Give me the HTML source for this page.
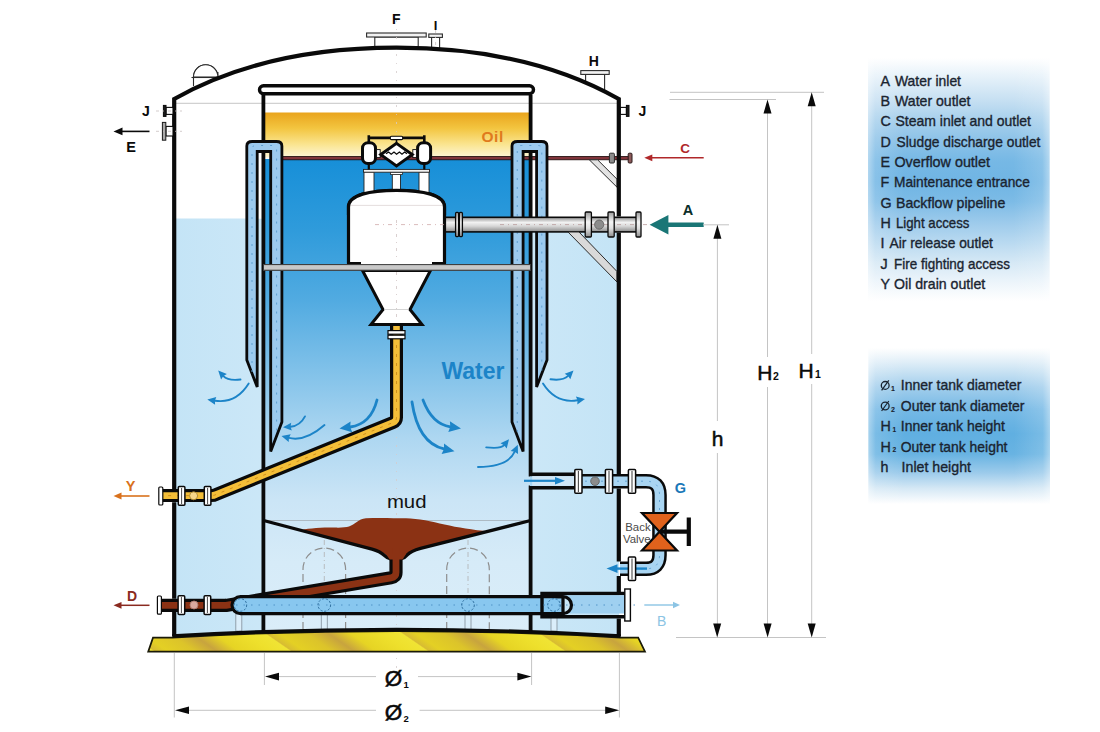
<!DOCTYPE html>
<html><head><meta charset="utf-8">
<style>
html,body{margin:0;padding:0;background:#fff;}
body{width:1100px;height:732px;overflow:hidden;font-family:"Liberation Sans",sans-serif;}
svg{display:block;}
text{font-family:"Liberation Sans",sans-serif;}
.b{font-weight:bold;}
.lg{fill:#1a2430;stroke:#1a2430;stroke-width:0.35px;}
</style></head><body>
<svg width="1100" height="732" viewBox="0 0 1100 732">
<defs>
<linearGradient id="gLeg1" x1="0" y1="0" x2="0" y2="1">
<stop offset="0" stop-color="#ffffff"/><stop offset="0.095" stop-color="#e0eef8"/><stop offset="0.177" stop-color="#c5dff2"/><stop offset="0.26" stop-color="#a5cfec"/><stop offset="0.34" stop-color="#8cc2e8"/><stop offset="0.424" stop-color="#76b8e5"/><stop offset="0.51" stop-color="#70b5e4"/><stop offset="0.59" stop-color="#7cbbe6"/><stop offset="0.675" stop-color="#9ccaeb"/><stop offset="0.757" stop-color="#b8d9f0"/><stop offset="0.84" stop-color="#d5e8f5"/><stop offset="0.926" stop-color="#edf5fb"/><stop offset="1" stop-color="#ffffff"/>
</linearGradient>
<linearGradient id="gLeg2" x1="0" y1="0" x2="0" y2="1">
<stop offset="0" stop-color="#ffffff"/><stop offset="0.1" stop-color="#dcecf7"/><stop offset="0.25" stop-color="#a2ceec"/><stop offset="0.4" stop-color="#74b8e5"/><stop offset="0.55" stop-color="#60afe1"/><stop offset="0.68" stop-color="#68b3e2"/><stop offset="0.8" stop-color="#9ccbeb"/><stop offset="0.9" stop-color="#d5e8f5"/><stop offset="1" stop-color="#ffffff"/>
</linearGradient>
<linearGradient id="gLegH" x1="0" y1="0" x2="1" y2="0">
<stop offset="0" stop-color="#ffffff" stop-opacity="0.45"/><stop offset="0.04" stop-color="#ffffff" stop-opacity="0.16"/><stop offset="0.2" stop-color="#ffffff" stop-opacity="0"/><stop offset="0.8" stop-color="#ffffff" stop-opacity="0"/><stop offset="0.96" stop-color="#ffffff" stop-opacity="0.16"/><stop offset="1" stop-color="#ffffff" stop-opacity="0.45"/>
</linearGradient>
<linearGradient id="gOil" x1="0" y1="0" x2="0" y2="1">
<stop offset="0" stop-color="#e9a41c"/><stop offset="0.35" stop-color="#f3c540"/><stop offset="0.7" stop-color="#fae48e"/><stop offset="1" stop-color="#fdf6d6"/>
</linearGradient>
<linearGradient id="gWater" x1="0" y1="0" x2="0" y2="1">
<stop offset="0" stop-color="#178fd8"/><stop offset="0.15" stop-color="#2f9bdb"/><stop offset="0.3" stop-color="#52abe1"/><stop offset="0.445" stop-color="#80c1e9"/><stop offset="0.59" stop-color="#aed7f1"/><stop offset="0.72" stop-color="#cbe5f6"/><stop offset="0.85" stop-color="#d6ebf8"/><stop offset="1" stop-color="#daedf9"/>
</linearGradient>
<linearGradient id="gOuter" x1="0" y1="0" x2="1" y2="0">
<stop offset="0" stop-color="#c4e4f6"/><stop offset="0.5" stop-color="#d6ecf9"/><stop offset="1" stop-color="#c4e4f6"/>
</linearGradient>
<linearGradient id="gPipe" x1="0" y1="0" x2="0" y2="1">
<stop offset="0" stop-color="#8f8f8f"/><stop offset="0.35" stop-color="#f2f2f2"/><stop offset="0.6" stop-color="#d8d8d8"/><stop offset="1" stop-color="#8a8a8a"/>
</linearGradient>
<linearGradient id="gBase" gradientUnits="userSpaceOnUse" x1="151.4" y1="640" x2="195.4" y2="576" spreadMethod="repeat">
<stop offset="0" stop-color="#e4d024"/><stop offset="0.2" stop-color="#dcc42a"/><stop offset="0.36" stop-color="#c8a43e"/><stop offset="0.52" stop-color="#e6d424"/><stop offset="0.75" stop-color="#eee02c"/><stop offset="0.895" stop-color="#f0e434"/><stop offset="0.91" stop-color="#d8bc32"/><stop offset="1" stop-color="#e4d024"/>
</linearGradient>
<linearGradient id="gFl" x1="0" y1="0" x2="0" y2="1"><stop offset="0" stop-color="#9a9a9a"/><stop offset="0.4" stop-color="#f4f4f4"/><stop offset="0.65" stop-color="#e0e0e0"/><stop offset="1" stop-color="#8c8c8c"/></linearGradient>
<clipPath id="cInner"><rect x="263.5" y="95" width="267" height="540"/></clipPath>
</defs>
<rect width="1100" height="732" fill="#ffffff"/>
<path d="M193.5,86 V77 A12.2,12.2 0 0 1 217.9,77 V72" fill="#ffffff" stroke="#2a2a2a" stroke-width="1.1"/>
<path d="M193.5,77 A12.2,12.2 0 0 1 217.9,77 Z" fill="#ffffff" stroke="#2a2a2a" stroke-width="1.1"/>
<line x1="191.5" y1="77.5" x2="219.5" y2="77.5" stroke="#2a2a2a" stroke-width="1.1"/>
<rect x="374.8" y="37" width="43.4" height="12" fill="#ffffff" stroke="#2a2a2a" stroke-width="1.1"/>
<rect x="366.6" y="33" width="59.6" height="4" fill="#f2f2f2" stroke="#2a2a2a" stroke-width="1.1"/>
<rect x="431.6" y="37.4" width="8" height="12" fill="#ffffff" stroke="#2a2a2a" stroke-width="1.1"/>
<rect x="428.8" y="34" width="13.6" height="3.4" fill="#f2f2f2" stroke="#2a2a2a" stroke-width="1.1"/>
<line x1="435.6" y1="30" x2="435.6" y2="62" stroke="#c9c0c0" stroke-width="0.8" stroke-dasharray="3 4 1 4"/>
<rect x="585.6" y="74.2" width="19" height="16" fill="#ffffff" stroke="#2a2a2a" stroke-width="1.1"/>
<rect x="580.8" y="70.6" width="28.4" height="3.8" fill="#f2f2f2" stroke="#2a2a2a" stroke-width="1.1"/>
<path d="M174.2,99 C229,68 300,47.7 396.5,47.7 C493,47.7 564,68 618.8,99 V219 H174.2 Z" fill="#ffffff"/>
<rect x="868" y="58" width="181.5" height="243" fill="url(#gLeg1)"/>
<rect x="868.5" y="348" width="181.5" height="156" fill="url(#gLeg2)"/>
<rect x="868" y="58" width="181.5" height="243" fill="url(#gLegH)"/>
<rect x="868.5" y="348" width="181.5" height="156" fill="url(#gLegH)"/>
<path d="M174,218.5 H619 V636 Q396.5,623 174,636 Z" fill="url(#gOuter)"/>
<rect x="263.5" y="95" width="267" height="20" fill="#ffffff"/>
<rect x="263.5" y="112.5" width="267" height="45" fill="url(#gOil)"/>
<path d="M263.5,159 H530.5 V633 Q396.5,625 263.5,633 Z" fill="url(#gWater)"/>
<line x1="174" y1="103.3" x2="619" y2="103.3" stroke="#b8b8b8" stroke-width="0.8"/>
<line x1="396.5" y1="20" x2="396.5" y2="670" stroke="#d4cccc" stroke-width="0.8" stroke-dasharray="2 7 1 7"/>
<rect x="257" y="151" width="7" height="67.5" fill="#ffffff"/>
<rect x="530" y="151" width="7" height="67.5" fill="#ffffff"/>
<rect x="281" y="156.4" width="349" height="3.4" fill="#80343a" stroke="#1a0a0a" stroke-width="0.8"/>
<path d="M263.4,95 V633" stroke="#0a0a0a" stroke-width="3.8" fill="none"/>
<path d="M530.6,95 V474.5 H576 M576,487.5 H530.6 V633" stroke="#0a0a0a" stroke-width="3.8" fill="none" stroke-linejoin="miter"/>
<rect x="259.5" y="85.8" width="274" height="8" rx="4" fill="#ffffff" stroke="#0a0a0a" stroke-width="3.4"/>
<path d="M246.8,146 Q246.8,141.5 252.3,141.5 H276.4 Q281.9,141.5 281.9,146 V422 L270.7,451.5 V151.5 H257.2 V387 L246.8,360 Z" fill="#9ccaee" stroke="#0a0a0a" stroke-width="2.8" stroke-linejoin="miter"/><path d="M252.0,372 V149 Q252.0,145.5 256.0,145.5 H272.6 Q276.6,145.5 276.6,149 V432" fill="none" stroke="#5f9fd0" stroke-width="1" stroke-dasharray="2 7"/>
<path d="M512,146 Q512,141.5 517.5,141.5 H541.5 Q547,141.5 547,146 V360 L536.6,387 V151.5 H523.1 V451.5 L512,422 Z" fill="#9ccaee" stroke="#0a0a0a" stroke-width="2.8" stroke-linejoin="miter"/><path d="M517.25,432 V149 Q517.25,145.5 521.25,145.5 H537.8 Q541.8,145.5 541.8,149 V372" fill="none" stroke="#5f9fd0" stroke-width="1" stroke-dasharray="2 7"/>
<path d="M303.0,630 V569.3 A21.3,21.3 0 0 1 345.6,569.3 V630" fill="none" stroke="#8e8e8e" stroke-width="1.2" stroke-dasharray="8 4"/><line x1="324.3" y1="540" x2="324.3" y2="632" stroke="#b0b0b0" stroke-width="0.8" stroke-dasharray="5 3 1 3"/>
<path d="M446.7,630 V569.3 A21.3,21.3 0 0 1 489.3,569.3 V630" fill="none" stroke="#8e8e8e" stroke-width="1.2" stroke-dasharray="8 4"/><line x1="468" y1="540" x2="468" y2="632" stroke="#b0b0b0" stroke-width="0.8" stroke-dasharray="5 3 1 3"/>
<line x1="264" y1="520.5" x2="530" y2="520.5" stroke="#a9b4bd" stroke-width="0.9"/>
<path d="M299,530.5 C306,528.6 322,527 335,527.6 C341,527.8 346,527.4 349,526.5 C355,524.6 358,519 366,518.3 C380,517.6 394,518.3 406,518.3 C418,518.6 432,521.5 444.5,524.6 C458,527.6 472,530 490,531.6 L420,548.5 Q408,552 403,558.5 L390,558.5 Q385,552 372,549 Z" fill="#8b3214"/>
<path d="M396,556 V572.5 Q396,577 391,577.8 L226,605.4 H160" fill="none" stroke="#0a0a0a" stroke-width="13.2" stroke-linejoin="round"/>
<path d="M263.6,520.5 L372,549.2 Q380,551.5 384.5,555.5 Q387.5,558.4 390.5,558.8 M530.6,520.5 L420.5,548.4 Q411,551 407,555.2 Q404.5,558.2 401.6,558.6" fill="none" stroke="#0a0a0a" stroke-width="3.3"/>
<path d="M396,548 V572.5 Q396,577 391,577.8 L226,605.4 H160" fill="none" stroke="#8b3214" stroke-width="6.8" stroke-linejoin="round"/>
<path d="M386,554 L406,554 L402.6,559.5 H389.6 Z" fill="#8b3214"/>
<rect x="235.8" y="614" width="6" height="17" fill="#dbeefa" stroke="#8a97a3" stroke-width="0.9"/>
<rect x="321.3" y="614" width="6" height="17" fill="#dbeefa" stroke="#8a97a3" stroke-width="0.9"/>
<rect x="465" y="614" width="6" height="17" fill="#dbeefa" stroke="#8a97a3" stroke-width="0.9"/>
<rect x="551" y="614" width="6" height="17" fill="#dbeefa" stroke="#8a97a3" stroke-width="0.9"/>
<path d="M240.5,596.6 H563 V613.6 H240.5 A8.5,8.5 0 0 1 240.5,596.6 Z" fill="#88c7ef" stroke="#0a0a0a" stroke-width="3.2"/>
<path d="M542,593.5 H626 V616.8 H542 Z" fill="none" stroke="#0a0a0a" stroke-width="3.4"/>
<path d="M563,596.6 A8.5,8.5 0 0 1 563,613.6 H624.5 V595.2 H563 Z" fill="#9fd0f0"/>
<path d="M556,596.6 H563 A8.5,8.5 0 0 1 563,613.6 H556" fill="none" stroke="#0a0a0a" stroke-width="3.2"/>
<path d="M543.5,595 H563 V597 H543.5 Z M543.5,613.4 H563 V615.4 H543.5 Z" fill="#0a0a0a"/>
<line x1="236" y1="605" x2="640" y2="605" stroke="#4a8fc4" stroke-width="0.9" stroke-dasharray="1.5 6"/>
<circle cx="240.4" cy="605" r="6.3" fill="none" stroke="#2f6f9f" stroke-width="1" stroke-dasharray="2.2 1.6"/>
<circle cx="324.3" cy="605" r="6.3" fill="none" stroke="#2f6f9f" stroke-width="1" stroke-dasharray="2.2 1.6"/>
<circle cx="468" cy="605" r="6.3" fill="none" stroke="#2f6f9f" stroke-width="1" stroke-dasharray="2.2 1.6"/>
<circle cx="554" cy="605" r="6.3" fill="none" stroke="#2f6f9f" stroke-width="1" stroke-dasharray="2.2 1.6"/>
<rect x="624.8" y="589" width="5.6" height="32" fill="#ffffff" stroke="#0a0a0a" stroke-width="1.4"/>
<path d="M396.5,326 V417.5 Q396.5,421 393,422.5 L216,494.5 Q214,495.6 211,495.6 H160" fill="none" stroke="#0a0a0a" stroke-width="13" stroke-linejoin="round"/>
<path d="M396.5,326 V417.5 Q396.5,421 393,422.5 L216,494.5 Q214,495.6 211,495.6 H160" fill="none" stroke="#f4be38" stroke-width="6.6" stroke-linejoin="round"/>
<path d="M396.5,345 V417.5 Q396.5,421 393,422.5 L216,494.5 Q214,495.6 211,495.6 H160" fill="none" stroke="#c98a1c" stroke-width="0.9" stroke-dasharray="3 6"/>
<rect x="388" y="330.6" width="17" height="3.6" fill="#ffffff" stroke="#0a0a0a" stroke-width="1.2"/>
<rect x="388" y="335.2" width="17" height="3.6" fill="#ffffff" stroke="#0a0a0a" stroke-width="1.2"/>
<rect x="263.5" y="264.6" width="267" height="5.6" fill="#c9c9c9" stroke="#3a3a3a" stroke-width="1"/>
<rect x="444" y="217.3" width="196" height="14.6" fill="url(#gPipe)" stroke="#0a0a0a" stroke-width="1.6"/>
<line x1="500" y1="224.6" x2="650" y2="224.6" stroke="#b79a9a" stroke-width="0.8" stroke-dasharray="4 4 1 4"/>
<rect x="455.6" y="212.4" width="3" height="24.19999999999999" rx="1" fill="url(#gFl)" stroke="#0a0a0a" stroke-width="1.3"/>
<rect x="459.4" y="212.4" width="3" height="24.19999999999999" rx="1" fill="url(#gFl)" stroke="#0a0a0a" stroke-width="1.3"/>
<rect x="585.2" y="212" width="6.2" height="25" rx="1" fill="url(#gFl)" stroke="#0a0a0a" stroke-width="1.3"/>
<rect x="608" y="212" width="6.2" height="25" rx="1" fill="url(#gFl)" stroke="#0a0a0a" stroke-width="1.3"/>
<rect x="636" y="212" width="5" height="25" rx="1" fill="url(#gFl)" stroke="#0a0a0a" stroke-width="1.3"/>
<circle cx="599.2" cy="224.6" r="4.6" fill="#8c8c8c" stroke="#5a5a5a" stroke-width="0.8"/>
<path d="M348.5,263.5 V207 C348.5,195 370,190.3 396.5,190.3 C423,190.3 444.5,195 444.5,207 V263.5 Z" fill="#ffffff" stroke="#0a0a0a" stroke-width="3.2" stroke-linejoin="round"/>
<line x1="351" y1="205.4" x2="442" y2="205.4" stroke="#d9d0d0" stroke-width="0.7"/>
<line x1="375" y1="224.6" x2="444" y2="224.6" stroke="#cfa9a9" stroke-width="0.8" stroke-dasharray="4 4 1 4"/>
<line x1="396.5" y1="192" x2="396.5" y2="322" stroke="#d0c4c4" stroke-width="0.8" stroke-dasharray="3 5 1 5"/>
<path d="M362.5,270.5 L383,309.5 L371,324.5 H422 L410,309.5 L430.5,270.5 Z" fill="#ffffff" stroke="#0a0a0a" stroke-width="3" stroke-linejoin="miter"/>
<line x1="384" y1="309.5" x2="409" y2="309.5" stroke="#c9c9c9" stroke-width="0.8"/>
<rect x="361" y="258" width="71" height="8" fill="#ffffff"/>
<rect x="263.5" y="264.6" width="267" height="5.6" fill="#c9c9c9" stroke="#3a3a3a" stroke-width="1"/>
<line x1="396.5" y1="272" x2="396.5" y2="322" stroke="#d0c4c4" stroke-width="0.8" stroke-dasharray="3 5 1 5"/>
<rect x="364" y="172" width="10" height="23" fill="#ffffff" stroke="#222" stroke-width="0.9"/>
<rect x="419" y="172" width="10" height="23" fill="#ffffff" stroke="#222" stroke-width="0.9"/>
<rect x="392.3" y="174" width="8.2" height="18" fill="#ffffff" stroke="#222" stroke-width="0.9"/>
<rect x="390.5" y="172.2" width="12" height="2.4" fill="#ffffff" stroke="#222" stroke-width="0.8"/>
<rect x="363.5" y="169.4" width="66" height="2.8" fill="#f2f2f2" stroke="#222" stroke-width="0.9"/>
<path d="M348.5,215 V207 C348.5,195 370,190.3 396.5,190.3 C423,190.3 444.5,195 444.5,207 V215 Z" fill="#ffffff"/>
<path d="M348.5,215 V207 C348.5,195 370,190.3 396.5,190.3 C423,190.3 444.5,195 444.5,207 V215" fill="none" stroke="#0a0a0a" stroke-width="3.2" stroke-linejoin="round"/>
<line x1="351" y1="205.4" x2="442" y2="205.4" stroke="#d9d0d0" stroke-width="0.7"/>
<path d="M368.8,135.2 V142 M424.3,135.2 V142 M368.8,137.9 H424.3" stroke="#0a0a0a" stroke-width="2.6" fill="none"/>
<rect x="390.3" y="136.2" width="12.4" height="3.4" rx="1.2" fill="#ffffff" stroke="#0a0a0a" stroke-width="1.1"/>
<path d="M368.8,164 V169.4 M424.3,164 V169.4" stroke="#0a0a0a" stroke-width="2.2"/>
<rect x="362.5" y="142.8" width="13" height="20.8" rx="5.5" fill="#ffffff" stroke="#0a0a0a" stroke-width="3"/>
<rect x="417.6" y="142.8" width="13" height="20.8" rx="5.5" fill="#ffffff" stroke="#0a0a0a" stroke-width="3"/>
<rect x="376.6" y="149.6" width="3.6" height="8" fill="#ffffff" stroke="#0a0a0a" stroke-width="0.9"/>
<rect x="412.8" y="149.6" width="3.6" height="8" fill="#ffffff" stroke="#0a0a0a" stroke-width="0.9"/>
<path d="M396.5,143.4 L412.2,154.6 L396.5,166 L380.8,154.6 Z" fill="#ffffff" stroke="#0a0a0a" stroke-width="3" stroke-linejoin="miter"/>
<path d="M386,153.8 L388.6,152 L391.2,154.2 L394,152 L396.6,154.2 L399.4,152 L402,154.2 L404.6,152 L407,153.8" fill="none" stroke="#0a0a0a" stroke-width="1.3"/>
<line x1="396.5" y1="139.6" x2="396.5" y2="143" stroke="#0a0a0a" stroke-width="1.6"/>
<path d="M589.3,159.8 L617,187.2 V179.2 L597.6,159.8 Z" fill="#e3e3e3" stroke="#2a2a2a" stroke-width="1"/>
<path d="M568,232 L617,282 V271.5 L579,232 Z" fill="#d9d9d9" stroke="#2a2a2a" stroke-width="1"/>
<rect x="609.4" y="153.2" width="5" height="9.8" rx="1" fill="#8c8c8c" stroke="#2a2a2a" stroke-width="1"/>
<rect x="628.2" y="153.2" width="3.8" height="9.8" rx="1" fill="#8c5a5a" stroke="#2a1a1a" stroke-width="1"/>
<path d="M576,481.2 H646 Q659.5,481.2 659.5,495 V555 Q659.5,568.8 646,568.8 H620" fill="none" stroke="#0a0a0a" stroke-width="14.6"/>
<path d="M530,481.2 H646 Q659.5,481.2 659.5,495 V555 Q659.5,568.8 646,568.8 H620" fill="none" stroke="#a9d5f2" stroke-width="9.6"/>
<path d="M585,481.2 H646 Q659.5,481.2 659.5,495 V555 Q659.5,568.8 646,568.8 H636" fill="none" stroke="#5f9fd0" stroke-width="0.9" stroke-dasharray="2 6"/>
<rect x="532.2" y="476.1" width="43" height="9.8" fill="#cfe6f6"/>
<rect x="574.8" y="469.6" width="7.2" height="23.6" rx="1" fill="#ffffff" stroke="#0a0a0a" stroke-width="1.5"/>
<line x1="578.4" y1="471" x2="578.4" y2="492" stroke="#4a4a4a" stroke-width="1.1"/>
<rect x="605.4" y="469.6" width="7.2" height="23.6" rx="1" fill="#ffffff" stroke="#0a0a0a" stroke-width="1.5"/>
<line x1="609.0" y1="471" x2="609.0" y2="492" stroke="#4a4a4a" stroke-width="1.1"/>
<rect x="628.4" y="469.6" width="7.2" height="23.6" rx="1" fill="#ffffff" stroke="#0a0a0a" stroke-width="1.5"/>
<line x1="632.0" y1="471" x2="632.0" y2="492" stroke="#4a4a4a" stroke-width="1.1"/>
<circle cx="595" cy="481.2" r="4.3" fill="#8c8c8c" stroke="#5a5a5a" stroke-width="0.8"/>
<path d="M647,568.6 H616" stroke="#1c84c8" stroke-width="2.4" fill="none"/><path d="M606.5,568.6 L617.5,564.2 V573 Z" fill="#1c84c8"/>
<rect x="628.4" y="557" width="7.2" height="23.6" rx="1" fill="#ffffff" stroke="#0a0a0a" stroke-width="1.5"/>
<line x1="632" y1="558.5" x2="632" y2="579.5" stroke="#4a4a4a" stroke-width="1.1"/>
<path d="M688.8,517.5 V546 M659.5,531.7 H688.8" stroke="#0a0a0a" stroke-width="4.2" fill="none"/>
<path d="M642,513 H677 L659.5,531.7 L677,550.5 H642 L659.5,531.7 Z" fill="#e0621c" stroke="#0a0a0a" stroke-width="2.2" stroke-linejoin="miter"/>
<path d="M524,480.8 H556" stroke="#1c84c8" stroke-width="2.2" fill="none"/><path d="M565,480.8 L555,477 V484.6 Z" fill="#1c84c8"/>
<rect x="158.8" y="487" width="4" height="18" rx="1" fill="#ffffff" stroke="#0a0a0a" stroke-width="1.2"/>
<rect x="178.3" y="486.6" width="6.6" height="18.6" rx="1" fill="#ffffff" stroke="#0a0a0a" stroke-width="1.5"/>
<line x1="181.60000000000002" y1="488" x2="181.60000000000002" y2="504" stroke="#4a4a4a" stroke-width="1"/>
<rect x="204.3" y="486.6" width="6.6" height="18.6" rx="1" fill="#ffffff" stroke="#0a0a0a" stroke-width="1.5"/>
<line x1="207.60000000000002" y1="488" x2="207.60000000000002" y2="504" stroke="#4a4a4a" stroke-width="1"/>
<circle cx="193.6" cy="495.8" r="4" fill="#f6d68a" stroke="#a9852a" stroke-width="0.9"/>
<rect x="157.4" y="596" width="4" height="18.2" rx="1" fill="#ffffff" stroke="#0a0a0a" stroke-width="1.2"/>
<rect x="178.1" y="595.8" width="6.6" height="18.6" rx="1" fill="#ffffff" stroke="#0a0a0a" stroke-width="1.5"/>
<line x1="181.4" y1="597" x2="181.4" y2="613" stroke="#4a4a4a" stroke-width="1"/>
<rect x="204.1" y="595.8" width="6.6" height="18.6" rx="1" fill="#ffffff" stroke="#0a0a0a" stroke-width="1.5"/>
<line x1="207.4" y1="597" x2="207.4" y2="613" stroke="#4a4a4a" stroke-width="1"/>
<circle cx="194" cy="605" r="4" fill="#d9a9a0" stroke="#a97a70" stroke-width="0.9"/>
<path d="M153,637.6 L172.5,637.6 Q396.5,624.6 620.4,637.6 L638.2,637.6 L645,651.6 H148.2 Z" fill="url(#gBase)" stroke="#1a1a08" stroke-width="1.7" stroke-linejoin="miter"/>
<path d="M174.3,98.5 Q396.5,-3 618.6,98.5 L618.6,110 H174.3 Z" fill="none"/>
<path d="M174.2,636 V611.5 M174.2,598.8 V502.2 M174.2,489.4 V99 C229,68 300,47.7 396.5,47.7 C493,47.7 564,68 618.8,99 V216.6 M618.8,232.6 V474 M618.8,488.4 V561.5 M618.8,576 V592 M618.8,618.4 V636" fill="none" stroke="#0a0a0a" stroke-width="4.2" stroke-linejoin="miter"/>
<path d="M172.2,636 Q396.5,623 620.8,636" fill="none" stroke="#0a0a0a" stroke-width="3.5"/>
<rect x="166" y="107.4" width="7" height="7" fill="#ffffff" stroke="#0a0a0a" stroke-width="1.1"/>
<rect x="163.4" y="105.4" width="2.6" height="11" fill="#1a1a1a" stroke="#0a0a0a" stroke-width="1"/>
<rect x="166" y="126.4" width="7" height="9.6" fill="#ffffff" stroke="#0a0a0a" stroke-width="1.1"/>
<rect x="162.4" y="122.4" width="3.4" height="17.8" fill="#a9a9a9" stroke="#1a1a1a" stroke-width="1"/>
<line x1="156" y1="111" x2="182" y2="111" stroke="#c9c0c0" stroke-width="0.8" stroke-dasharray="3 4 1 4"/>
<line x1="156" y1="131.3" x2="182" y2="131.3" stroke="#c9c0c0" stroke-width="0.8" stroke-dasharray="3 4 1 4"/>
<rect x="620.4" y="107.4" width="6" height="7" fill="#ffffff" stroke="#0a0a0a" stroke-width="1.1"/>
<rect x="626.4" y="105.4" width="2.6" height="11" fill="#1a1a1a" stroke="#0a0a0a" stroke-width="1"/>
<path d="M240.5,379.5 Q228,381 223.4,376.1" fill="none" stroke="#1c84c8" stroke-width="1.9" stroke-linecap="round"/><path d="M218.2,370.5 L226.9,374.0 L223.4,376.1 L221.1,379.4 Z" fill="#1c84c8"/>
<path d="M248.7,383.6 Q236,404 214.9,400.7" fill="none" stroke="#1c84c8" stroke-width="1.9" stroke-linecap="round"/><path d="M207.3,399.5 L216.3,396.9 L214.9,400.7 L215.1,404.8 Z" fill="#1c84c8"/>
<path d="M305,416.4 Q300,426 290.6,426.7" fill="none" stroke="#1c84c8" stroke-width="1.9" stroke-linecap="round"/><path d="M283,427.3 L291.2,422.7 L290.6,426.7 L291.8,430.6 Z" fill="#1c84c8"/>
<path d="M324.5,425 Q305,442 288.9,437.9" fill="none" stroke="#1c84c8" stroke-width="1.9" stroke-linecap="round"/><path d="M281.5,436 L290.7,434.2 L288.9,437.9 L288.7,442.0 Z" fill="#1c84c8"/>
<path d="M377,400 Q371,424 350.2,427.0" fill="none" stroke="#1c84c8" stroke-width="2.8" stroke-linecap="round"/><path d="M339.5,428.6 L350.6,421.5 L350.2,427.0 L352.2,432.2 Z" fill="#1c84c8"/>
<path d="M423,400 Q432,424 450.3,426.8" fill="none" stroke="#1c84c8" stroke-width="2.8" stroke-linecap="round"/><path d="M461,428.4 L448.3,431.9 L450.3,426.8 L449.9,421.3 Z" fill="#1c84c8"/>
<path d="M412,402 Q418,443 444.0,448.9" fill="none" stroke="#1c84c8" stroke-width="2.8" stroke-linecap="round"/><path d="M454.5,451.3 L441.6,453.9 L444.0,448.9 L444.0,443.4 Z" fill="#1c84c8"/>
<path d="M486.2,447.4 Q501,449 504.1,445.2" fill="none" stroke="#1c84c8" stroke-width="1.9" stroke-linecap="round"/><path d="M509,439.3 L506.7,448.4 L504.1,445.2 L500.5,443.3 Z" fill="#1c84c8"/>
<path d="M478,467 Q508,467 514.7,451.7" fill="none" stroke="#1c84c8" stroke-width="1.9" stroke-linecap="round"/><path d="M517.8,444.7 L518.0,454.1 L514.7,451.7 L510.7,450.9 Z" fill="#1c84c8"/>
<path d="M550.5,379.3 Q563,381 568.1,375.9" fill="none" stroke="#1c84c8" stroke-width="1.9" stroke-linecap="round"/><path d="M573.5,370.5 L570.3,379.3 L568.1,375.9 L564.7,373.7 Z" fill="#1c84c8"/>
<path d="M543,383.6 Q556,404 577.5,400.3" fill="none" stroke="#1c84c8" stroke-width="1.9" stroke-linecap="round"/><path d="M585,399 L577.3,404.4 L577.5,400.3 L575.9,396.5 Z" fill="#1c84c8"/>
<line x1="149.5" y1="131.4" x2="119.8" y2="131.4" stroke="#0a0a0a" stroke-width="1.6"/><path d="M113.5,131.4 L122.5,127.60000000000001 L122.5,135.20000000000002 Z" fill="#0a0a0a"/>
<line x1="149.5" y1="496" x2="119.1" y2="496" stroke="#d9711c" stroke-width="1.6"/><path d="M113.5,496 L121.5,492.6 L121.5,499.4 Z" fill="#d9711c"/>
<line x1="149.5" y1="605.3" x2="119.1" y2="605.3" stroke="#8a2a20" stroke-width="1.5"/><path d="M113.5,605.3 L121.5,601.9 L121.5,608.6999999999999 Z" fill="#8a2a20"/>
<line x1="703.7" y1="157.8" x2="649.9" y2="157.8" stroke="#b0282a" stroke-width="1.5"/><path d="M644.3,157.8 L652.3,154.4 L652.3,161.20000000000002 Z" fill="#b0282a"/>
<line x1="644.3" y1="605" x2="675.1" y2="605" stroke="#8cc4e4" stroke-width="1.4"/><path d="M680,605 L673,601.8 L673,608.2 Z" fill="#8cc4e4"/>
<path d="M649.6,224.8 L668.4,215 V222.6 H703.7 V227 H668.4 V234.6 Z" fill="#1a7676"/>
<line x1="670" y1="92.3" x2="824" y2="92.3" stroke="#c4c4c4" stroke-width="1"/>
<line x1="669.5" y1="99.5" x2="776" y2="99.5" stroke="#c4c4c4" stroke-width="1"/>
<line x1="703" y1="224.8" x2="729" y2="224.8" stroke="#c4c4c4" stroke-width="1"/>
<line x1="676" y1="637.5" x2="826" y2="637.5" stroke="#c4c4c4" stroke-width="1"/>
<path d="M717.4,236 V421 M717.4,453 V625" stroke="#c4c4c4" stroke-width="1" fill="none"/>
<path d="M767.5,112 V357 M767.5,387 V625" stroke="#c4c4c4" stroke-width="1" fill="none"/>
<path d="M811.7,105 V354 M811.7,384 V625" stroke="#c4c4c4" stroke-width="1" fill="none"/>
<path d="M717.4,224.8 L713.4,238.8 H721.4 Z" fill="#0a0a0a"/>
<path d="M767.5,99.5 L763.5,113.5 H771.5 Z" fill="#0a0a0a"/>
<path d="M811.7,92.3 L807.7,106.3 H815.7 Z" fill="#0a0a0a"/>
<path d="M717.2,637.5 L713.2,623.5 H721.2 Z" fill="#0a0a0a"/>
<path d="M767.6,637.5 L763.6,623.5 H771.6 Z" fill="#0a0a0a"/>
<path d="M811.7,637.5 L807.7,623.5 H815.7 Z" fill="#0a0a0a"/>
<path d="M174.3,653 V717.5 M619.4,653 V717.5 M264.4,653 V685 M531.6,653 V685" stroke="#c4c4c4" stroke-width="1" fill="none"/>
<path d="M277,676.6 H376 M418,676.6 H520 M189,710.3 H376 M419.6,710.3 H607" stroke="#c4c4c4" stroke-width="1" fill="none"/>
<path d="M265,676.6 L279,672.8000000000001 V680.4 Z" fill="#0a0a0a"/>
<path d="M531.4,676.6 L517.4,672.8000000000001 V680.4 Z" fill="#0a0a0a"/>
<path d="M175,710.3 L189,706.5 V714.0999999999999 Z" fill="#0a0a0a"/>
<path d="M619.2,710.3 L605.2,706.5 V714.0999999999999 Z" fill="#0a0a0a"/>
<text x="396.4" y="24" font-size="14" font-weight="bold" fill="#0a0a0a" text-anchor="middle" >F</text>
<text x="435.6" y="29.6" font-size="13" font-weight="bold" fill="#0a0a0a" text-anchor="middle" >I</text>
<text x="593.8" y="66.4" font-size="14" font-weight="bold" fill="#0a0a0a" text-anchor="middle" >H</text>
<text x="146" y="116.4" font-size="14" font-weight="bold" fill="#0a0a0a" text-anchor="middle" >J</text>
<text x="642.4" y="116.4" font-size="14" font-weight="bold" fill="#0a0a0a" text-anchor="middle" >J</text>
<text x="131" y="152.4" font-size="14.5" font-weight="bold" fill="#0a0a0a" text-anchor="middle" >E</text>
<text x="130.6" y="490.6" font-size="14.5" font-weight="bold" fill="#d9711c" text-anchor="middle" >Y</text>
<text x="132" y="600.8" font-size="14" font-weight="bold" fill="#8a2a20" text-anchor="middle" >D</text>
<text x="685" y="152.6" font-size="13.5" font-weight="bold" fill="#b0282a" text-anchor="middle" >C</text>
<text x="688" y="214.6" font-size="14.5" font-weight="bold" fill="#0c2e2a" text-anchor="middle" >A</text>
<text x="680.4" y="493" font-size="14.5" font-weight="bold" fill="#1a78b8" text-anchor="middle" >G</text>
<text x="661.6" y="626" font-size="14" font-weight="normal" fill="#8cc4e4" text-anchor="middle" >B</text>
<text x="492.7" y="142" font-size="15.5" font-weight="bold" fill="#e07a1c" text-anchor="middle" letter-spacing="0.6">Oil</text>
<text x="473" y="379.2" font-size="23" font-weight="bold" fill="#1c84c8" text-anchor="middle" >Water</text>
<text x="386.9" y="507.6" font-size="18.5" font-weight="normal" fill="#111" text-anchor="start" textLength="39.6" lengthAdjust="spacingAndGlyphs">mud</text>
<text x="650.6" y="531" font-size="11.4" font-weight="normal" fill="#4a4a4a" text-anchor="end" >Back</text>
<text x="650.6" y="542.8" font-size="11.4" font-weight="normal" fill="#4a4a4a" text-anchor="end" >Valve</text>
<text x="717.6" y="446.4" font-size="21" font-weight="normal" fill="#0a0a0a" text-anchor="middle" stroke="#0a0a0a" stroke-width="0.5">h</text>
<text x="757.2" y="380" font-size="21" font-weight="normal" fill="#0a0a0a" text-anchor="start" stroke="#0a0a0a" stroke-width="0.5">H</text>
<text x="773" y="380" font-size="10.5" font-weight="bold" fill="#0a0a0a" text-anchor="start" >2</text>
<text x="798.4" y="378.4" font-size="21" font-weight="normal" fill="#0a0a0a" text-anchor="start" stroke="#0a0a0a" stroke-width="0.5">H</text>
<text x="815" y="378.4" font-size="10.5" font-weight="bold" fill="#0a0a0a" text-anchor="start" >1</text>
<text x="384.8" y="686.2" font-size="22.5" font-weight="normal" fill="#0a0a0a" text-anchor="start" stroke="#0a0a0a" stroke-width="0.5">Ø</text>
<text x="403.4" y="687.6" font-size="9.5" font-weight="bold" fill="#0a0a0a" text-anchor="start" >1</text>
<text x="384.8" y="720.2" font-size="22.5" font-weight="normal" fill="#0a0a0a" text-anchor="start" stroke="#0a0a0a" stroke-width="0.5">Ø</text>
<text x="403.4" y="721.6" font-size="9.5" font-weight="bold" fill="#0a0a0a" text-anchor="start" >2</text>
<text x="880.6" y="85.6" class="lg" font-size="14.3" xml:space="preserve">A</text>
<text x="895" y="85.6" class="lg" font-size="14.3" xml:space="preserve" textLength="66.0" lengthAdjust="spacingAndGlyphs">Water inlet</text>
<text x="880.6" y="105.92999999999999" class="lg" font-size="14.3" xml:space="preserve">B</text>
<text x="895" y="105.92999999999999" class="lg" font-size="14.3" xml:space="preserve" textLength="75.5" lengthAdjust="spacingAndGlyphs">Water outlet</text>
<text x="880.6" y="126.25999999999999" class="lg" font-size="14.3" xml:space="preserve">C</text>
<text x="895.4" y="126.25999999999999" class="lg" font-size="14.3" xml:space="preserve" textLength="135.6" lengthAdjust="spacingAndGlyphs">Steam inlet and outlet</text>
<text x="880.6" y="146.58999999999997" class="lg" font-size="14.3" xml:space="preserve">D</text>
<text x="896.6" y="146.58999999999997" class="lg" font-size="14.3" xml:space="preserve" textLength="143.8" lengthAdjust="spacingAndGlyphs">Sludge discharge outlet</text>
<text x="880.6" y="166.91999999999996" class="lg" font-size="14.3" xml:space="preserve">E</text>
<text x="894.4" y="166.91999999999996" class="lg" font-size="14.3" xml:space="preserve" textLength="95.6" lengthAdjust="spacingAndGlyphs">Overflow outlet</text>
<text x="880.6" y="187.24999999999994" class="lg" font-size="14.3" xml:space="preserve">F</text>
<text x="894" y="187.24999999999994" class="lg" font-size="14.3" xml:space="preserve" textLength="135.8" lengthAdjust="spacingAndGlyphs">Maintenance entrance</text>
<text x="880.6" y="207.57999999999993" class="lg" font-size="14.3" xml:space="preserve">G</text>
<text x="896" y="207.57999999999993" class="lg" font-size="14.3" xml:space="preserve" textLength="109.3" lengthAdjust="spacingAndGlyphs">Backflow pipeline</text>
<text x="880.6" y="227.9099999999999" class="lg" font-size="14.3" xml:space="preserve">H</text>
<text x="896" y="227.9099999999999" class="lg" font-size="14.3" xml:space="preserve" textLength="73.4" lengthAdjust="spacingAndGlyphs">Light access</text>
<text x="880.6" y="248.2399999999999" class="lg" font-size="14.3" xml:space="preserve">I</text>
<text x="889.6" y="248.2399999999999" class="lg" font-size="14.3" xml:space="preserve" textLength="103.3" lengthAdjust="spacingAndGlyphs">Air release outlet</text>
<text x="880.6" y="268.5699999999999" class="lg" font-size="14.3" xml:space="preserve">J</text>
<text x="894" y="268.5699999999999" class="lg" font-size="14.3" xml:space="preserve" textLength="116.0" lengthAdjust="spacingAndGlyphs">Fire fighting access</text>
<text x="880.6" y="288.89999999999986" class="lg" font-size="14.3" xml:space="preserve">Y</text>
<text x="894" y="288.89999999999986" class="lg" font-size="14.3" xml:space="preserve" textLength="91.2" lengthAdjust="spacingAndGlyphs">Oil drain outlet</text>
<text x="900.8" y="390" class="lg" font-size="14.3" xml:space="preserve" textLength="120.6" lengthAdjust="spacingAndGlyphs">Inner tank diameter</text>
<text x="900.8" y="410.6" class="lg" font-size="14.3" xml:space="preserve" textLength="123.7" lengthAdjust="spacingAndGlyphs">Outer tank diameter</text>
<text x="900.8" y="431.20000000000005" class="lg" font-size="14.3" xml:space="preserve" textLength="104.2" lengthAdjust="spacingAndGlyphs">Inner tank height</text>
<text x="900.8" y="451.80000000000007" class="lg" font-size="14.3" xml:space="preserve" textLength="106.7" lengthAdjust="spacingAndGlyphs">Outer tank height</text>
<text x="901.6" y="472.4000000000001" class="lg" font-size="14.3" xml:space="preserve" textLength="69.4" lengthAdjust="spacingAndGlyphs">Inlet height</text>
<circle cx="885.2" cy="385.4" r="3.9" fill="none" stroke="#1a2430" stroke-width="1.3"/><line x1="881.6" y1="390.4" x2="888.8000000000001" y2="380.4" stroke="#1a2430" stroke-width="1.2"/>
<text x="891" y="391" class="lg" font-size="7" font-weight="bold" style="stroke-width:0.1px">1</text>
<circle cx="885.2" cy="406" r="3.9" fill="none" stroke="#1a2430" stroke-width="1.3"/><line x1="881.6" y1="411" x2="888.8000000000001" y2="401" stroke="#1a2430" stroke-width="1.2"/>
<text x="891" y="411.6" class="lg" font-size="7" font-weight="bold" style="stroke-width:0.1px">2</text>
<text x="880.4" y="431.2" class="lg" font-size="14.3">H</text><text x="892.6" y="431.6" class="lg" font-size="6.6" font-weight="bold" style="stroke-width:0.1px">1</text>
<text x="880.4" y="451.8" class="lg" font-size="14.3">H</text><text x="892.6" y="452.2" class="lg" font-size="6.6" font-weight="bold" style="stroke-width:0.1px">2</text>
<text x="880.4" y="472.4" class="lg" font-size="14.3">h</text>
</svg>
</body></html>
